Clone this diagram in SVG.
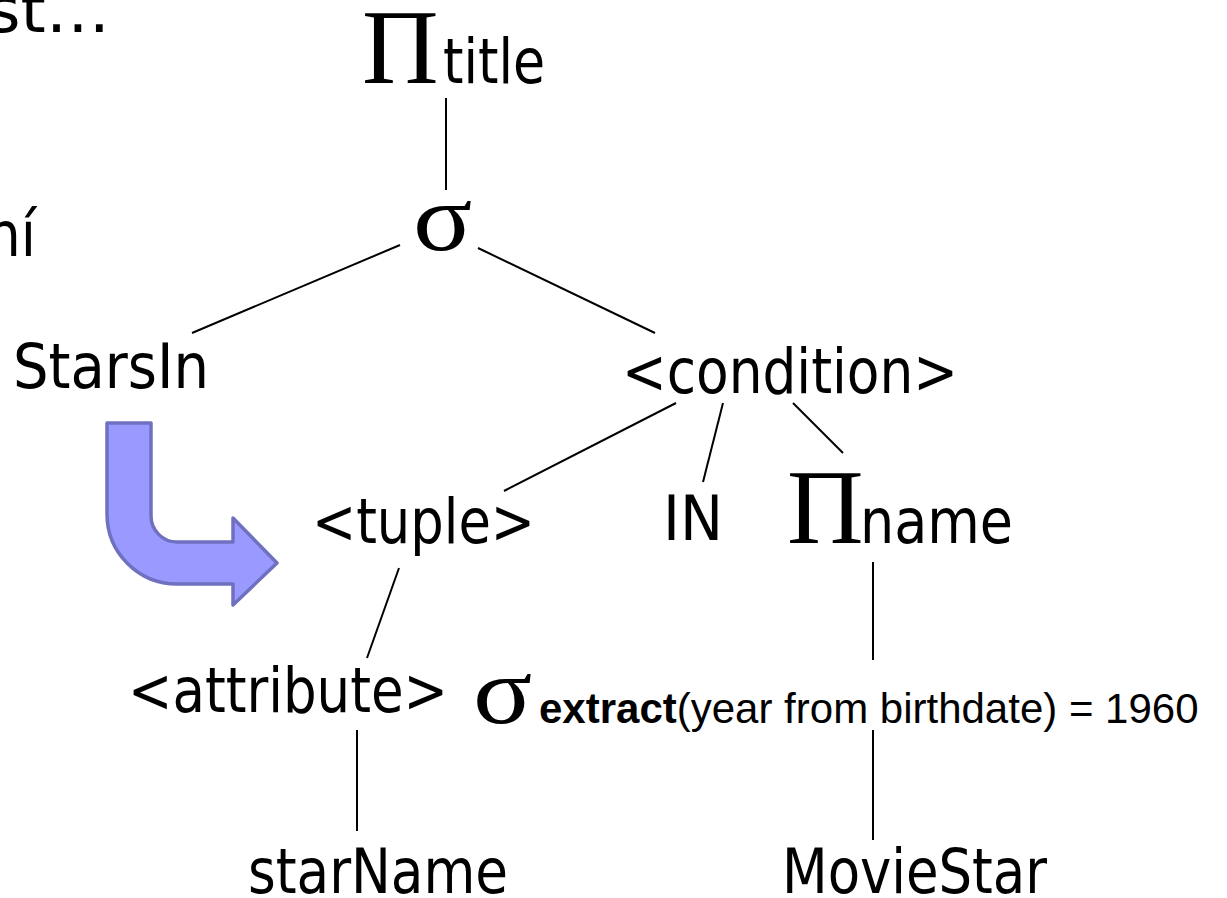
<svg xmlns="http://www.w3.org/2000/svg" width="1227" height="898" viewBox="0 0 1227 898">
<style>
.s{font-family:"DejaVu Sans Condensed","DejaVu Sans",sans-serif;font-size:62px;fill:#000}
.g{font-family:"Liberation Serif","Times New Roman",serif;fill:#000}
.a{font-family:"Liberation Sans",Arial,sans-serif;font-size:42px;fill:#000}
.e line{stroke:#000;stroke-width:2}
</style>
<rect width="1227" height="898" fill="#fff"/>
<text class="s" x="-13" y="32" textLength="123" lengthAdjust="spacingAndGlyphs">st…</text>
<text class="s" x="-14" y="256" textLength="50" lengthAdjust="spacingAndGlyphs">ní</text>
<g class="e" id="connectors">
<line x1="446" y1="98" x2="446" y2="190"/>
<line x1="400" y1="245" x2="192" y2="333"/>
<line x1="478" y1="248" x2="655" y2="333"/>
<line x1="676" y1="403" x2="504" y2="491"/>
<line x1="723" y1="403" x2="703" y2="482"/>
<line x1="793" y1="403" x2="843" y2="453"/>
<line x1="399" y1="568" x2="367" y2="658"/>
<line x1="357" y1="730" x2="357" y2="831"/>
<line x1="873" y1="562" x2="873" y2="660"/>
<line x1="873" y1="730" x2="873" y2="840"/>
</g>
<g id="n-pi-title"><text class="g" x="362" y="83" font-size="106">Π</text><text class="s" x="443" y="83" textLength="102" lengthAdjust="spacingAndGlyphs">title</text></g>
<g id="n-sigma"><text class="g" font-size="100" transform="translate(413,250) scale(1.1,0.95)">σ</text></g>
<g id="n-starsin"><text class="s" x="13" y="388" textLength="196" lengthAdjust="spacingAndGlyphs">StarsIn</text></g>
<g id="n-condition"><text class="s" x="622" y="393" textLength="336" lengthAdjust="spacingAndGlyphs">&lt;condition&gt;</text></g>
<g id="n-tuple"><text class="s" x="312" y="543" textLength="223" lengthAdjust="spacingAndGlyphs">&lt;tuple&gt;</text></g>
<g id="n-in"><text class="s" x="663" y="540" textLength="60" lengthAdjust="spacingAndGlyphs">IN</text></g>
<g id="n-pi-name"><text class="g" x="787" y="543" font-size="106">Π</text><text class="s" x="860" y="543" textLength="153" lengthAdjust="spacingAndGlyphs">name</text></g>
<g id="n-attribute"><text class="s" x="128" y="712" textLength="320" lengthAdjust="spacingAndGlyphs">&lt;attribute&gt;</text></g>
<g id="n-sigma-extract"><text class="g" font-size="100" transform="translate(473,723) scale(1.1,0.95)">σ</text><text class="a" x="539" y="723"><tspan font-weight="bold">extract</tspan>(year from birthdate) = 1960</text></g>
<g id="n-starname"><text class="s" x="248" y="893" textLength="260" lengthAdjust="spacingAndGlyphs">starName</text></g>
<g id="n-moviestar"><text class="s" x="782" y="893" textLength="265" lengthAdjust="spacingAndGlyphs">MovieStar</text></g>
<g id="arrow"><path d="M107,423 L151,423 L151,516 A26,26 0 0 0 177,542 L233,542 L233,518 L277,563 L233,605 L233,584 L177,584 A70,70 0 0 1 107,514 Z" fill="#9999ff" stroke="#7070c0" stroke-width="3.5" stroke-linejoin="round"/></g>
</svg>
